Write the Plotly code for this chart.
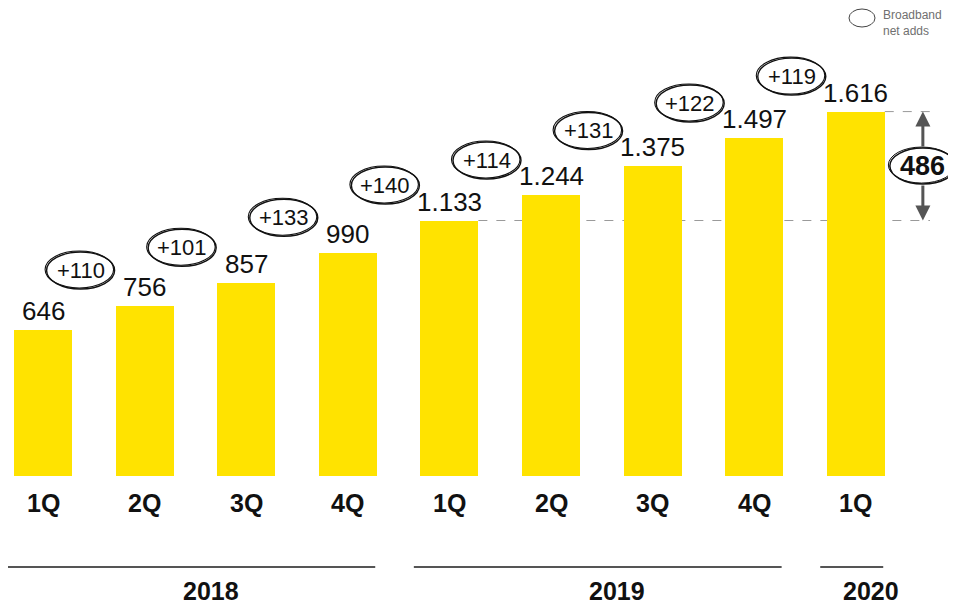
import plotly.graph_objects as go

# ---------------- data ----------------
quarters = ["1Q", "2Q", "3Q", "4Q", "1Q", "2Q", "3Q", "4Q", "1Q"]
years = ["2018", "2019", "2020"]
year_groups = [[0, 1, 2, 3], [4, 5, 6, 7], [8]]
broadband = [646, 756, 857, 990, 1133, 1244, 1375, 1497, 1616]
value_labels = ["646", "756", "857", "990", "1.133", "1.244", "1.375", "1.497", "1.616"]
net_adds = ["+110", "+101", "+133", "+140", "+114", "+131", "+122", "+119"]
growth_label = "486"
legend_text = "Broadband<br>net adds"

# ---------------- layout geometry ----------------
PAGE_OFF = 8              # default body margin of the html page
W, H = 956 - PAGE_OFF, 607 - PAGE_OFF
PX_PER_UNIT = 0.2255      # vertical pixels per subscriber unit
BASE_PX = 476 - PAGE_OFF  # pixel row of bar base (figure coords)
X0_PX, STEP_PX = 43 - PAGE_OFF, 101.6
ymax = BASE_PX / PX_PER_UNIT
ymin = -(H - BASE_PX) / PX_PER_UNIT
xmin = -X0_PX / STEP_PX
xmax = (W - X0_PX) / STEP_PX
BAR_W = 0.57


def py(px):
    """page pixel row -> data y"""
    return (BASE_PX - (px - PAGE_OFF)) / PX_PER_UNIT


def dy(px):
    """pixel height -> data height"""
    return px / PX_PER_UNIT


def paper_x(px):
    return (px - PAGE_OFF) / W


def paper_y(px):
    return 1 - (px - PAGE_OFF) / H


FONT = "Liberation Sans, Arial, sans-serif"
YELLOW = "#FFE300"

fig = go.Figure()
x_idx = list(range(len(broadband)))
fig.add_trace(go.Bar(
    x=x_idx, y=broadband, width=BAR_W,
    marker=dict(color=YELLOW, line=dict(width=0)),
    hoverinfo="skip",
))

shapes = []
annotations = []

# value labels
for i, (v, lab) in enumerate(zip(broadband, value_labels)):
    annotations.append(dict(
        x=i, y=v, xref="x", yref="y", text=lab, showarrow=False,
        yanchor="bottom", yshift=2,
        font=dict(family=FONT, size=26, color="#111111"),
    ))

# net adds ellipses
for k, lab in enumerate(net_adds):
    cx = k + 0.37
    cy = broadband[k + 1] + dy(35)
    for (a, b, c, d, w) in [(-34, 34, -18.5, 18.5, 1.4), (-35.5, 33, -17.5, 19.5, 1.1)]:
        shapes.append(dict(
            type="circle", xref="x", yref="y",
            xsizemode="pixel", ysizemode="pixel",
            xanchor=cx, yanchor=cy, x0=a, x1=b, y0=c, y1=d,
            line=dict(color="#111111", width=w), fillcolor="rgba(0,0,0,0)",
            layer="above",
        ))
    annotations.append(dict(
        x=cx, y=cy, xref="x", yref="y", text=lab, showarrow=False,
        font=dict(family=FONT, size=22, color="#111111"),
    ))

# dashed reference lines
top_v = broadband[-1]
ref_v = broadband[4]
arrow_x = 8.66
shapes.append(dict(type="line", xref="x", yref="y",
                   x0=8 + BAR_W / 2, x1=8.73, y0=top_v, y1=top_v,
                   line=dict(color="#9a9a9a", width=1, dash="dash"), layer="below"))
shapes.append(dict(type="line", xref="x", yref="y",
                   x0=4 + BAR_W / 2, x1=8.73, y0=ref_v, y1=ref_v,
                   line=dict(color="#9a9a9a", width=1, dash="dash"), layer="below"))

mid_v = (top_v + ref_v) / 2
# arrows
for tip, tail in [(top_v, mid_v + dy(18)), (ref_v, mid_v - dy(18))]:
    annotations.append(dict(
        x=arrow_x, y=tip, ax=arrow_x, ay=tail, xref="x", yref="y",
        axref="x", ayref="y", text="", showarrow=True,
        arrowhead=2, arrowsize=1.0, arrowwidth=3, arrowcolor="#555555",
        standoff=0, startstandoff=0,
    ))
# growth ellipse
shapes.append(dict(
    type="circle", xref="x", yref="y", xsizemode="pixel", ysizemode="pixel",
    xanchor=arrow_x, yanchor=mid_v, x0=-33, x1=33, y0=-18, y1=18,
    line=dict(color="#111111", width=1.5), fillcolor="white", layer="above",
))
shapes.append(dict(
    type="circle", xref="x", yref="y", xsizemode="pixel", ysizemode="pixel",
    xanchor=arrow_x, yanchor=mid_v, x0=-34.5, x1=32, y0=-17, y1=19,
    line=dict(color="#111111", width=1.0), fillcolor="rgba(0,0,0,0)", layer="above",
))
annotations.append(dict(
    x=arrow_x, y=mid_v, xref="x", yref="y", text="<b>" + growth_label + "</b>",
    showarrow=False, font=dict(family=FONT, size=27, color="#111111"),
))

# quarter labels
for i, q in enumerate(quarters):
    annotations.append(dict(
        x=i, y=py(503), xref="x", yref="y", text="<b>" + q + "</b>",
        showarrow=False, font=dict(family=FONT, size=25, color="#111111"),
    ))

# year groups
for yr, grp in zip(years, year_groups):
    shapes.append(dict(type="line", xref="x", yref="y",
                       x0=grp[0] - 0.35, x1=grp[-1] + 0.27, y0=py(567), y1=py(567),
                       line=dict(color="#555555", width=2)))
    annotations.append(dict(
        x=sum(grp) / len(grp) + 0.15, y=py(591), xref="x", yref="y",
        text="<b>" + yr + "</b>", showarrow=False,
        font=dict(family=FONT, size=25, color="#111111"),
    ))

# legend
shapes.append(dict(
    type="circle", xref="paper", yref="paper", xsizemode="pixel", ysizemode="pixel",
    xanchor=paper_x(862), yanchor=paper_y(18), x0=-13, x1=13, y0=-9, y1=9,
    line=dict(color="#444444", width=1), fillcolor="rgba(0,0,0,0)",
))
annotations.append(dict(
    x=paper_x(881), y=paper_y(23), xref="paper", yref="paper", text=legend_text,
    showarrow=False, xanchor="left", yanchor="middle", align="left",
    font=dict(family=FONT, size=12, color="#707070"),
))

fig.update_layout(
    width=W, height=H,
    margin=dict(l=0, r=0, t=0, b=0),
    paper_bgcolor="white", plot_bgcolor="white",
    showlegend=False,
    xaxis=dict(visible=False, range=[xmin, xmax], fixedrange=True),
    yaxis=dict(visible=False, range=[ymin, ymax], fixedrange=True),
    shapes=shapes, annotations=annotations,
    bargap=0,
)

fig.write_html("out.html")
